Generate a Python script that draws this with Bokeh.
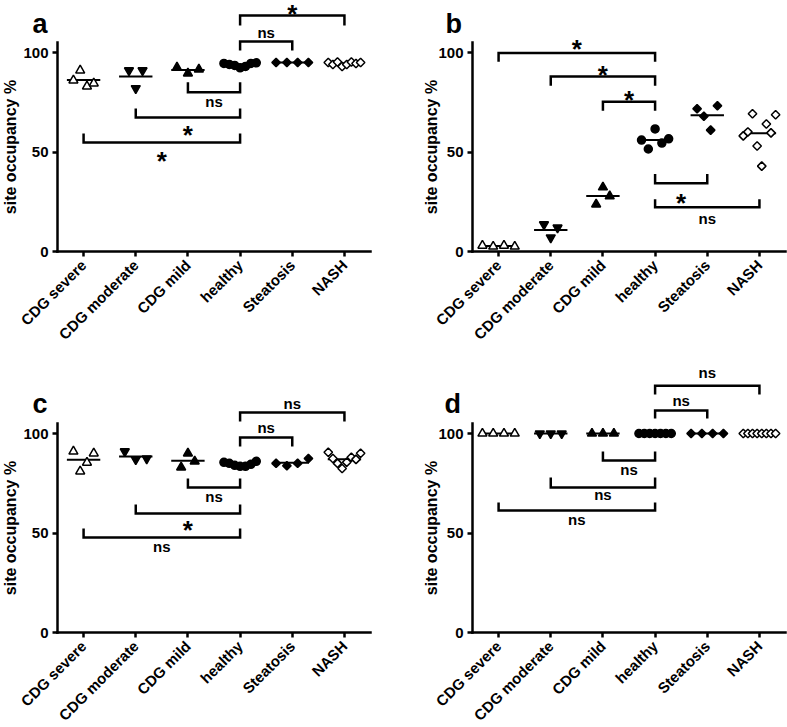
import numpy as np
from bokeh.plotting import figure
from bokeh.models import FixedTicker, Label
from bokeh.layouts import column, row
from bokeh.embed import file_html
from bokeh.resources import INLINE

categories = ["CDG severe", "CDG moderate", "CDG mild", "healthy", "Steatosis", "NASH"]
y_ticks = [0, 50, 100]
y_label = "site occupancy %"

# ---- panel a values (site occupancy %) ----
a_cdg_severe = [86, 91, 83, 84.5]
a_cdg_moderate = [91, 82, 91]
a_cdg_mild = [92.5, 89.5, 91.5]
a_healthy = [94.5, 94, 93.5, 92.3, 93, 94.5, 94.8]
a_steatosis = [95, 95, 95, 95]
a_nash = [95, 94, 95.2, 93, 94, 95.2, 94.5, 95]

# ---- panel b ----
b_cdg_severe = [3, 2.5, 3, 2.5]
b_cdg_moderate = [13.6, 7, 12]
b_cdg_mild = [23.7, 32.3, 27.8]
b_healthy = [56, 51.5, 61.6, 54.5, 56.6]
b_steatosis = [71.7, 68, 61, 73.2]
b_nash = [58.1, 60.1, 69.2, 53, 42.9, 64.1, 59.6, 68.7]

# ---- panel c ----
c_cdg_severe = [91, 81, 85.4, 90]
c_cdg_moderate = [91, 87, 87.4]
c_cdg_mild = [83, 90, 86]
c_healthy = [85.5, 85, 84, 83.5, 83.5, 84.5, 86]
c_steatosis = [85, 83.8, 85, 87.4]
c_nash = [90.6, 87.4, 85.0, 82.4, 85.6, 88.1, 87.0, 90.1]

# ---- panel d ----
d_cdg_severe = [100, 100, 100, 100]
d_cdg_moderate = [100, 100, 100]
d_cdg_mild = [100, 100, 100]
d_healthy = [100, 100, 100, 100, 100, 100, 100]
d_steatosis = [100, 100, 100, 100]
d_nash = [100, 100, 100, 100, 100, 100, 100, 100]

# ---- significance brackets: (from group, to group, bar level, leg end, label, label centre) ----
a_brackets = [(3, 5, 118.6, 113.6, "*", 122.6),
              (3, 4, 105.5, 101.0, "ns", 110.1),
              (2, 3, 80.0, 85.0, "ns", 75.6),
              (1, 3, 67.3, 71.8, "*", 61.8),
              (0, 3, 54.8, 59.3, "*", 48.7)]
b_brackets = [(0, 3, 99.7, 95.3, "*", 104.8),
              (1, 3, 87.9, 83.3, "*", 92.2),
              (2, 3, 75.3, 70.7, "*", 79.6),
              (3, 4, 34.3, 38.9, "*", 27.7),
              (3, 5, 22.2, 26.3, "ns", 16.4)]
c_brackets = [(3, 5, 110.6, 106.0, "ns", 115.3),
              (3, 4, 98.0, 93.5, "ns", 102.8),
              (2, 3, 72.9, 77.4, "ns", 68.3),
              (1, 3, 59.8, 64.3, "*", 54.8),
              (0, 3, 47.7, 52.3, "ns", 43.2)]
d_brackets = [(3, 5, 124.0, 119.6, "ns", 130.7),
              (3, 4, 111.6, 107.5, "ns", 116.8),
              (2, 3, 86.4, 91.0, "ns", 81.9),
              (1, 3, 72.9, 77.9, "ns", 69.3),
              (0, 3, 61.3, 65.3, "ns", 56.8)]

# panel letters: (x in category units, baseline in % units)
a_letter_pos = (-0.979, 114.1)
b_letter_pos = (-1.018, 114.1)
c_letter_pos = (-0.979, 114.6)
d_letter_pos = (-1.037, 114.6)
# y-axis title centre (x in category units, y in % units)
a_ylabel_pos = (-1.40, 52.5)
b_ylabel_pos = (-1.29, 52.5)

FONT = "Liberation Sans"
PX_PER_UNIT = 1.99      # vertical pixels per % unit
PX_PER_CAT = 52.17      # horizontal pixels per category

marker_styles = [
    dict(marker="triangle", fill_color="white", size=9),
    dict(marker="inverted_triangle", fill_color="black", size=9),
    dict(marker="triangle", fill_color="black", size=9),
    dict(marker="circle", fill_color="black", size=8),
    dict(marker="square", fill_color="black", size=6, angle=np.pi / 4),
    dict(marker="square", fill_color="white", size=6, angle=np.pi / 4),
]


def swarm_offsets(vals):
    n = len(vals)
    if n == 1:
        return [0.0]
    spread_px = (max(vals) - min(vals)) * PX_PER_UNIT
    step = 0.21 if spread_px < 10 else 0.13
    h = min(0.31, step * (n - 1) / 2)
    return list(np.linspace(-h, h, n))


def add_text(p, x, y, text, size, align="center", baseline="middle", angle=0.0):
    p.add_layout(Label(x=x, y=y, text=text, text_font=FONT, text_font_style="bold",
                       text_font_size=size, text_align=align, text_baseline=baseline,
                       angle=angle, text_color="black"))


def make_panel(groups, brackets, letter, fig_w, fig_h, axis_gap, zero_px,
               letter_xy, ylabel_xy):
    # the frame fills the whole figure; axes are pinned at x=-0.5 and y=0 inside it
    x0 = -0.5 - axis_gap / PX_PER_CAT
    x1 = x0 + fig_w / PX_PER_CAT
    y0 = -(fig_h - zero_px) / PX_PER_UNIT
    y1 = zero_px / PX_PER_UNIT
    p = figure(frame_width=fig_w, frame_height=fig_h,
               x_range=(x0, x1), y_range=(y0, y1),
               min_border_left=0, min_border_right=0,
               min_border_top=0, min_border_bottom=0,
               output_backend="svg", toolbar_location=None,
               outline_line_color=None, background_fill_color="white",
               border_fill_color="white")
    p.grid.visible = False
    for ax in (p.xaxis[0], p.yaxis[0]):
        ax.axis_line_width = 2.5
        ax.axis_line_color = "black"
        ax.axis_line_cap = "square"
        ax.major_tick_line_width = 2.5
        ax.major_tick_line_color = "black"
        ax.major_tick_out = 5
        ax.major_tick_in = 0
        ax.minor_tick_line_color = None
        ax.major_label_text_font = FONT
        ax.major_label_text_font_style = "bold"
        ax.major_label_text_color = "black"
    p.xaxis.ticker = FixedTicker(ticks=list(range(len(categories))))
    p.xaxis.major_label_overrides = {i: c for i, c in enumerate(categories)}
    p.xaxis.major_label_orientation = np.pi / 4
    p.xaxis.major_label_text_font_size = "15px"
    p.xaxis.major_label_standoff = 6
    p.xaxis.bounds = (-0.5, len(categories) - 0.5)
    p.xaxis.fixed_location = 0
    p.yaxis.ticker = FixedTicker(ticks=y_ticks)
    p.yaxis.major_label_text_font_size = "15px"
    p.yaxis.major_label_standoff = 4
    p.yaxis.bounds = (0, 105)
    p.yaxis.fixed_location = -0.5

    # mean lines
    for i, vals in enumerate(groups):
        m = float(np.mean(vals))
        p.segment(x0=[i - 0.32], x1=[i + 0.32], y0=[m], y1=[m], line_width=2, line_color="black")
    # points
    for i, vals in enumerate(groups):
        xs = [i + o for o in swarm_offsets(vals)]
        st = dict(marker_styles[i])
        p.scatter(xs, vals, line_color="black", line_width=1.5, **st)

    # brackets
    bxs = [[b[0], b[0], b[1], b[1]] for b in brackets]
    bys = [[b[3], b[2], b[2], b[3]] for b in brackets]
    p.multi_line(bxs, bys, line_width=2.5, line_color="black", line_join="miter")
    for b in brackets:
        xc = (b[0] + b[1]) / 2
        if b[4] == "*":
            add_text(p, xc, b[5] - 0.25 * 26 / PX_PER_UNIT, "*", "26px")
        else:
            add_text(p, xc, b[5], b[4], "15px")

    add_text(p, letter_xy[0], letter_xy[1], letter, "27px", align="left", baseline="alphabetic")
    add_text(p, ylabel_xy[0], ylabel_xy[1], y_label, "16px", angle=np.pi / 2)
    return p


TOP_H, BOTTOM_H = 365, 362
pa = make_panel([a_cdg_severe, a_cdg_moderate, a_cdg_mild, a_healthy, a_steatosis, a_nash],
                a_brackets, "a", 400, TOP_H, 57, 251, a_letter_pos, a_ylabel_pos)
pb = make_panel([b_cdg_severe, b_cdg_moderate, b_cdg_mild, b_healthy, b_steatosis, b_nash],
                b_brackets, "b", 387, TOP_H, 72, 251, b_letter_pos, b_ylabel_pos)
pc = make_panel([c_cdg_severe, c_cdg_moderate, c_cdg_mild, c_healthy, c_steatosis, c_nash],
                c_brackets, "c", 400, BOTTOM_H, 57, 267, c_letter_pos, a_ylabel_pos)
pd_ = make_panel([d_cdg_severe, d_cdg_moderate, d_cdg_mild, d_healthy, d_steatosis, d_nash],
                 d_brackets, "d", 387, BOTTOM_H, 72, 267, d_letter_pos, b_ylabel_pos)

layout = column(row(pa, pb), row(pc, pd_))
open("out.html", "w").write(file_html(layout, INLINE))
